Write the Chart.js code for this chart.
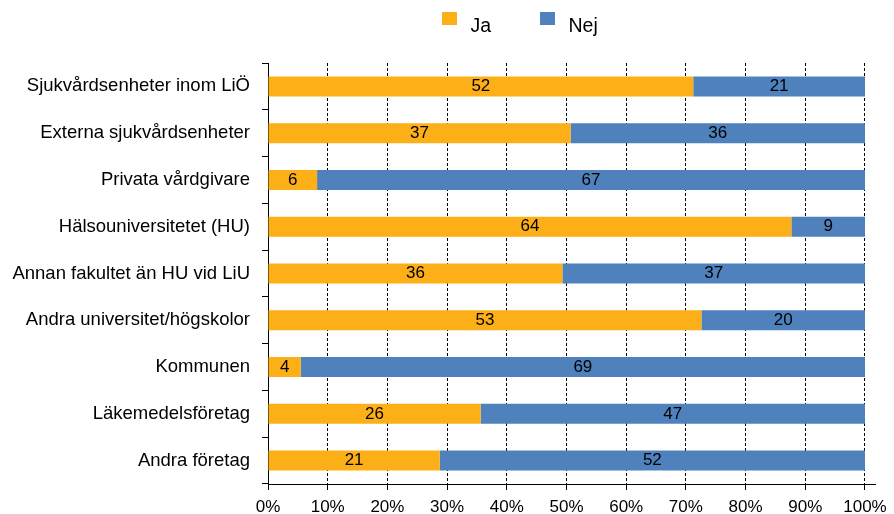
<!DOCTYPE html>
<html>
<head>
<meta charset="utf-8">
<script src="https://cdn.jsdelivr.net/npm/chart.js@4/dist/chart.umd.min.js"></script>
<style>
  html, body { margin: 0; padding: 0; background: #fff; }
  #wrap { width: 894px; height: 514px; position: relative; }
</style>
</head>
<body>
<div id="wrap"><canvas id="c" width="894" height="514"></canvas></div>
<script>
const categories = [
  "Sjukvårdsenheter inom LiÖ",
  "Externa sjukvårdsenheter",
  "Privata vårdgivare",
  "Hälsouniversitetet (HU)",
  "Annan fakultet än HU vid LiU",
  "Andra universitet/högskolor",
  "Kommunen",
  "Läkemedelsföretag",
  "Andra företag"
];
const jaCounts  = [52, 37, 6, 64, 36, 53, 4, 26, 21];
const nejCounts = [21, 36, 67, 9, 37, 20, 69, 47, 52];
const seriesNames = ["Ja", "Nej"];
const seriesColors = ["#FCAF17", "#4F81BD"];
const xTickValues = [0, 10, 20, 30, 40, 50, 60, 70, 80, 90, 100];

const FONT = "'Liberation Sans', Arial, sans-serif";

function toPercent(a, b) {
  return a.map((v, i) => v / (a[i] + b[i]) * 100);
}
const jaPct = toPercent(jaCounts, nejCounts);
const nejPct = toPercent(nejCounts, jaCounts);
const countsBySeries = [jaCounts, nejCounts];

const dataLabelPlugin = {
  id: 'dataLabels',
  afterDatasetsDraw(chart) {
    const ctx = chart.ctx;
    ctx.save();
    ctx.font = "17px " + FONT;
    ctx.fillStyle = "#000";
    ctx.textAlign = "center";
    ctx.textBaseline = "middle";
    chart.data.datasets.forEach((ds, di) => {
      const meta = chart.getDatasetMeta(di);
      meta.data.forEach((bar, i) => {
        const cx = (bar.x + bar.base) / 2;
        ctx.fillText(String(countsBySeries[di][i]), cx, bar.y);
      });
    });
    ctx.restore();
  }
};

const legendPlugin = {
  id: 'customLegend',
  afterDraw(chart) {
    const ctx = chart.ctx;
    ctx.save();
    const boxX = [442, 540];
    ctx.font = "19.5px " + FONT;
    ctx.textBaseline = "alphabetic";
    ctx.textAlign = "left";
    chart.data.datasets.forEach((ds, di) => {
      ctx.fillStyle = ds.backgroundColor;
      ctx.fillRect(boxX[di], 12, 15, 13);
      ctx.fillStyle = "#000";
      ctx.fillText(ds.label, boxX[di] + 28.5, 31.5);
    });
    ctx.restore();
  }
};

new Chart(document.getElementById('c'), {
  type: 'bar',
  data: {
    labels: categories,
    datasets: [
      { label: seriesNames[0], data: jaPct, backgroundColor: seriesColors[0] },
      { label: seriesNames[1], data: nejPct, backgroundColor: seriesColors[1] }
    ]
  },
  plugins: [dataLabelPlugin, legendPlugin],
  options: {
    responsive: false,
    animation: false,
    indexAxis: 'y',
    layout: { padding: { top: 63, right: 17, left: 0, bottom: 0 } },
    datasets: {
      bar: { categoryPercentage: 1.0, barPercentage: 0.428, borderWidth: 0 }
    },
    plugins: { legend: { display: false }, tooltip: { enabled: false } },
    scales: {
      x: {
        stacked: true,
        min: 0,
        max: 101.7,
        afterBuildTicks(scale) {
          scale.ticks = xTickValues.map(v => ({ value: v }));
        },
        afterFit(scale) { scale.height = 30; },
        ticks: {
          callback: (v) => v + '%',
          color: '#000',
          font: { size: 17, family: FONT },
          padding: 7,
          maxRotation: 0,
          autoSkip: false
        },
        grid: {
          color: '#000',
          lineWidth: 1,
          tickLength: 6,
          tickColor: '#000',
          tickBorderDash: []
        },
        border: { display: true, color: '#000', width: 1, dash: [3, 2] }
      },
      y: {
        stacked: true,
        afterFit(scale) { scale.width = 268; },
        ticks: {
          color: '#000',
          font: { size: 18.5, family: FONT },
          padding: 12,
          autoSkip: false
        },
        grid: {
          offset: true,
          drawOnChartArea: false,
          drawTicks: true,
          tickLength: 6,
          color: '#000',
          tickColor: '#000'
        },
        border: { display: true, color: '#000', width: 1 }
      }
    }
  }
});
</script>
</body>
</html>
